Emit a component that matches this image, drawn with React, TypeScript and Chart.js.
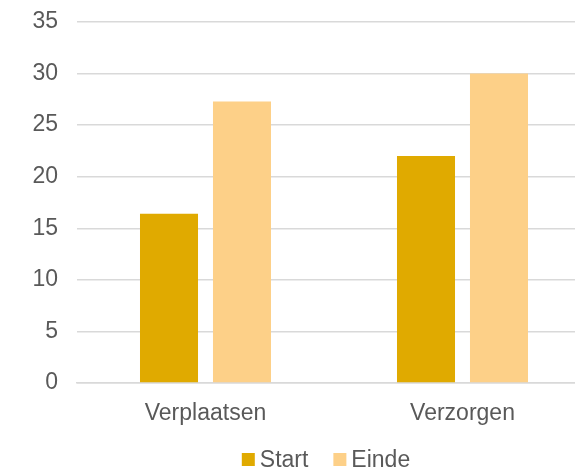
import React, { useEffect, useRef } from "react";
import { Chart, registerables } from "chart.js";

Chart.register(...registerables);

const categories = ["Verplaatsen", "Verzorgen"];
const startValues = [16.4, 22.0];
const eindeValues = [27.3, 30.0];
const seriesNames = ["Start", "Einde"];
const seriesColors = ["#E0AA00", "#FDD088"];

const TEXT = "#595959";
const FONT = "'Liberation Sans', Arial, sans-serif";
const FS = 23;

const legendPlugin = {
  id: "customLegend",
  afterDraw(chart: any) {
    const ctx = chart.ctx;
    ctx.save();
    ctx.font = `${FS}px ${FONT}`;
    const box = 13;
    const gap = 5;
    const itemGap = 25;
    const items = chart.data.datasets.map((d: any) => ({
      label: d.label,
      color: d.backgroundColor,
      w: ctx.measureText(d.label).width,
    }));
    let total = 0;
    items.forEach((it: any, i: number) => {
      total += box + gap + it.w + (i < items.length - 1 ? itemGap : 0);
    });
    let x = chart.width / 2 - total / 2;
    const cy = 459.5;
    ctx.textBaseline = "middle";
    ctx.textAlign = "left";
    items.forEach((it: any) => {
      ctx.fillStyle = it.color;
      ctx.fillRect(x, cy - box / 2, box, box);
      x += box + gap;
      ctx.fillStyle = TEXT;
      ctx.fillText(it.label, x, cy + 1);
      x += it.w + itemGap;
    });
    ctx.restore();
  },
};

export default function App() {
  const ref = useRef<HTMLCanvasElement | null>(null);

  useEffect(() => {
    if (!ref.current) return;
    const chart = new Chart(ref.current, {
      type: "bar",
      data: {
        labels: categories,
        datasets: [
          {
            label: seriesNames[0],
            data: startValues,
            backgroundColor: seriesColors[0],
            borderWidth: 0,
            categoryPercentage: 0.568,
            barPercentage: 0.795,
          },
          {
            label: seriesNames[1],
            data: eindeValues,
            backgroundColor: seriesColors[1],
            borderWidth: 0,
            categoryPercentage: 0.568,
            barPercentage: 0.795,
          },
        ],
      },
      plugins: [legendPlugin],
      options: {
        animation: false,
        responsive: true,
        maintainAspectRatio: false,
        layout: { padding: { top: 22, left: 0, right: 61, bottom: 0 } },
        plugins: {
          tooltip: { enabled: false },
          legend: { display: false },
        },
        scales: {
          x: {
            grid: { display: false, drawTicks: false },
            border: { color: "#d9d9d9", width: 1.5 },
            ticks: {
              color: TEXT,
              font: { family: FONT, size: FS },
              padding: 17,
            },
            afterFit: (s: any) => {
              s.height = 85;
              s.paddingLeft = 0;
              s.paddingRight = 0;
            },
          },
          y: {
            min: 0,
            max: 35,
            ticks: {
              stepSize: 5,
              color: TEXT,
              font: { family: FONT, size: FS },
              padding: 19,
            },
            grid: { color: "#d9d9d9", lineWidth: 1.5, drawTicks: false },
            border: { display: false },
            afterFit: (s: any) => {
              s.width = 77;
              s.paddingTop = 0;
              s.paddingBottom = 0;
            },
          },
        },
      },
    });
    return () => chart.destroy();
  }, []);

  return (
    <div
      style={{
        position: "absolute",
        left: 0,
        top: 0,
        width: 575,
        height: 468,
        overflow: "hidden",
        background: "#fff",
      }}
    >
      <div style={{ position: "relative", width: 652, height: 468 }}>
        <canvas ref={ref} />
      </div>
    </div>
  );
}
